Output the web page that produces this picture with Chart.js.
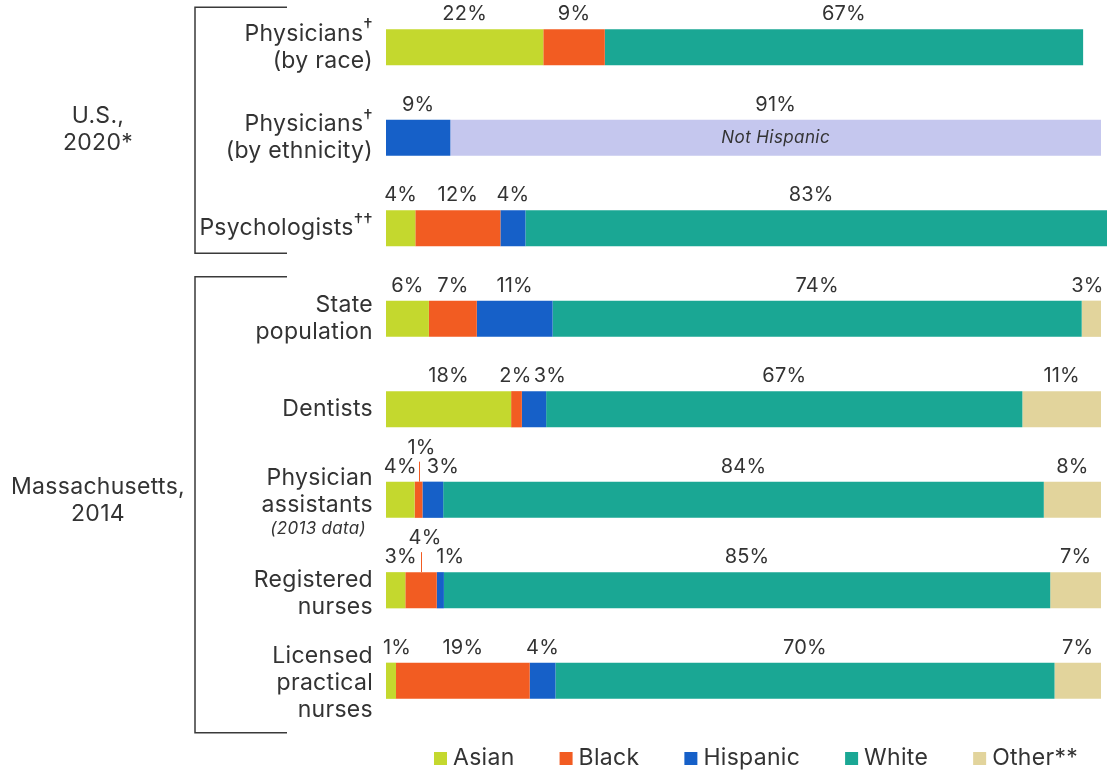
<!DOCTYPE html>
<html>
<head>
<meta charset="utf-8">
<script src="https://cdn.jsdelivr.net/npm/chart.js@4"></script>
<style>
  html, body { margin: 0; padding: 0; background: #fff; }
</style>
</head>
<body>
<canvas id="myChart" width="1107" height="771"></canvas>
<script>
// Data (percent of workforce / population)

var categories = ["Physicians (by race)", "Physicians (by ethnicity)", "Psychologists", "State population",
  "Dentists", "Physician assistants", "Registered nurses", "Licensed practical nurses"];
var asian       = [22,   null, 4.1,  6,    17.5, 4,   2.7,  1.4];
var black       = [8.6,  null, 11.9, 6.7,  1.5,  1.1, 4.4,  18.7];
var hispanic    = [null, 9,    3.5,  10.6, 3.4,  2.9, 1.0,  3.6];
var notHispanic = [null, 91,   null, null, null, null, null, null];
var white       = [66.9, null, 83,   74,   66.6, 84,  84.8, 69.8];
var other       = [null, null, null, 2.7,  11,   8,   7.1,  6.5];

var seriesNames = ["Asian", "Black", "Hispanic", "Not Hispanic", "White", "Other**"];
var legendNames = ["Asian", "Black", "Hispanic", "White", "Other**"];

// Row labels: [text, superscript, italic]
var rowLabels = [
  [["Physicians", "\u2020"], ["(by race)", ""]],
  [["Physicians", "\u2020"], ["(by ethnicity)", ""]],
  [["Psychologists", "\u2020\u2020"]],
  [["State", ""], ["population", ""]],
  [["Dentists", ""]],
  [["Physician", ""], ["assistants", ""], ["(2013 data)", "", true]],
  [["Registered", ""], ["nurses", ""]],
  [["Licensed", ""], ["practical", ""], ["nurses", ""]]
];
var groups = [
  { lines: ["U.S.,", "2020*"], from: 0, to: 2 },
  { lines: ["Massachusetts,", "2014"], from: 3, to: 7 }
];

var colors = {
  "Asian": "#c4d82e",
  "Black": "#f25c22",
  "Hispanic": "#1660c8",
  "Not Hispanic": "#c5c7ee",
  "White": "#1aa794",
  "Other**": "#e2d49c"
};

// small label shifts where segments are too narrow: [dx, raised]
var nudges = {
  "2-White": [-11, false],
  "3-Other**": [-4, false],
  "4-Black": [-1, false],
  "4-Hispanic": [16, false],
  "5-Black": [3, true],
  "5-Hispanic": [10, false],
  "6-Asian": [5, false],
  "6-Black": [4, true],
  "6-Hispanic": [10, false],
  "7-Asian": [6, false]
};

var FONT = "Inter, 'Noto Sans', sans-serif";
var TEXT = "#333333";

var allValues = [asian, black, hispanic, notHispanic, white, other];

var datasets = seriesNames.map(function (name, k) {
  return {
    label: name,
    data: allValues[k],
    backgroundColor: colors[name],
    borderWidth: 0,
    barPercentage: 0.4,
    categoryPercentage: 1,
    clip: false
  };
});

// percent labels above the bars
var valueLabels = {
  id: 'valueLabels',
  afterDatasetsDraw: function (chart) {
    var ctx = chart.ctx;
    ctx.save();
    ctx.textAlign = 'center';
    ctx.textBaseline = 'middle';
    chart.data.datasets.forEach(function (ds, di) {
      var meta = chart.getDatasetMeta(di);
      meta.data.forEach(function (bar, i) {
        var v = ds.data[i];
        if (!v) return;
        var top = bar.y - bar.height / 2;
        var cx = (bar.x + bar.base) / 2;
        var n = nudges[i + '-' + ds.label] || [0, false];
        var y = top - 15;
        if (n[1]) {
          y = top - 34;
          ctx.strokeStyle = ds.backgroundColor;
          ctx.lineWidth = 1;
          ctx.beginPath();
          ctx.moveTo(Math.round(cx) + 0.5, top - 20);
          ctx.lineTo(Math.round(cx) + 0.5, top);
          ctx.stroke();
        }
        ctx.fillStyle = TEXT;
        ctx.letterSpacing = '0.2px';
        ctx.font = '20px ' + FONT;
        ctx.fillText(Math.round(v) + '%', cx + n[0], y);
        if (ds.label === 'Not Hispanic') {
          ctx.letterSpacing = '0.4px';
          ctx.font = 'italic 17px ' + FONT;
          ctx.fillText('Not Hispanic', cx, bar.y);
        }
      });
    });
    ctx.restore();
  }
};

// row labels, group brackets and legend
var sideText = {
  id: 'sideText',
  afterDraw: function (chart) {
    var ctx = chart.ctx;
    var ys = chart.scales.y;
    var right = 373;
    ctx.save();
    ctx.fillStyle = TEXT;
    ctx.textBaseline = 'middle';
    ctx.letterSpacing = '0.3px';

    rowLabels.forEach(function (lines, i) {
      var yc = ys.getPixelForValue(i);
      var hs = lines.map(function (l) { return l[2] ? 21 : 27; });
      var total = hs.reduce(function (a, b) { return a + b; }, 0);
      var y = yc - total / 2 + (lines.length > 2 ? 2 : 0) + (i === 6 ? 3 : 0);
      lines.forEach(function (l, j) {
        var ly = y + hs[j] / 2;
        if (l[2]) {
          ctx.font = 'italic 17px ' + FONT;
          ctx.textAlign = 'right';
          ctx.fillText(l[0], right - 7, ly);
        } else {
          ctx.font = '19px ' + FONT;
          var sw = l[1] ? ctx.measureText(l[1]).width : 0;
          if (l[1]) {
            ctx.textAlign = 'right';
            ctx.fillText(l[1], right, ly - 7);
          }
          ctx.font = '23px ' + FONT;
          ctx.textAlign = 'right';
          ctx.fillText(l[0], right - sw, ly);
        }
        y += hs[j];
      });
    });

    ctx.strokeStyle = '#3a3a3a';
    ctx.lineWidth = 1.5;
    groups.forEach(function (g, gi) {
      var top = ys.getPixelForValue(g.from) - (gi === 0 ? 40 : 42);
      var bot = ys.getPixelForValue(g.to) + (gi === 0 ? 25 : 52);
      ctx.beginPath();
      ctx.moveTo(287, top);
      ctx.lineTo(195, top);
      ctx.lineTo(195, bot);
      ctx.lineTo(287, bot);
      ctx.stroke();
      var mid = (top + bot) / 2 - (gi === 0 ? 1 : 4);
      ctx.font = '23px ' + FONT;
      ctx.textAlign = 'center';
      ctx.fillText(g.lines[0], 98, mid - 13.5);
      ctx.fillText(g.lines[1], 98, mid + 13.5);
    });

    // legend
    var lx = 434, ly = 758;
    ctx.font = '23px ' + FONT;
    ctx.textAlign = 'left';
    legendNames.forEach(function (name) {
      ctx.fillStyle = colors[name];
      ctx.fillRect(lx, ly - 6, 13, 13);
      ctx.fillStyle = TEXT;
      ctx.fillText(name, lx + 19, ly);
      lx += 19 + ctx.measureText(name).width + 45;
    });
    ctx.restore();
  }
};

new Chart("myChart", {
  type: "bar",
  data: {
    labels: categories,
    datasets: datasets
  },
  options: {
    indexAxis: 'y',
    responsive: false,
    animation: false,
    devicePixelRatio: 1,
    layout: { padding: { left: 386, right: 6, top: 2, bottom: 45 } },
    scales: {
      x: { stacked: true, min: 0, max: 100, display: false },
      y: { stacked: true, display: false }
    },
    plugins: {
      legend: { display: false },
      tooltip: { enabled: false }
    }
  },
  plugins: [valueLabels, sideText]
});
</script>
</body>
</html>
